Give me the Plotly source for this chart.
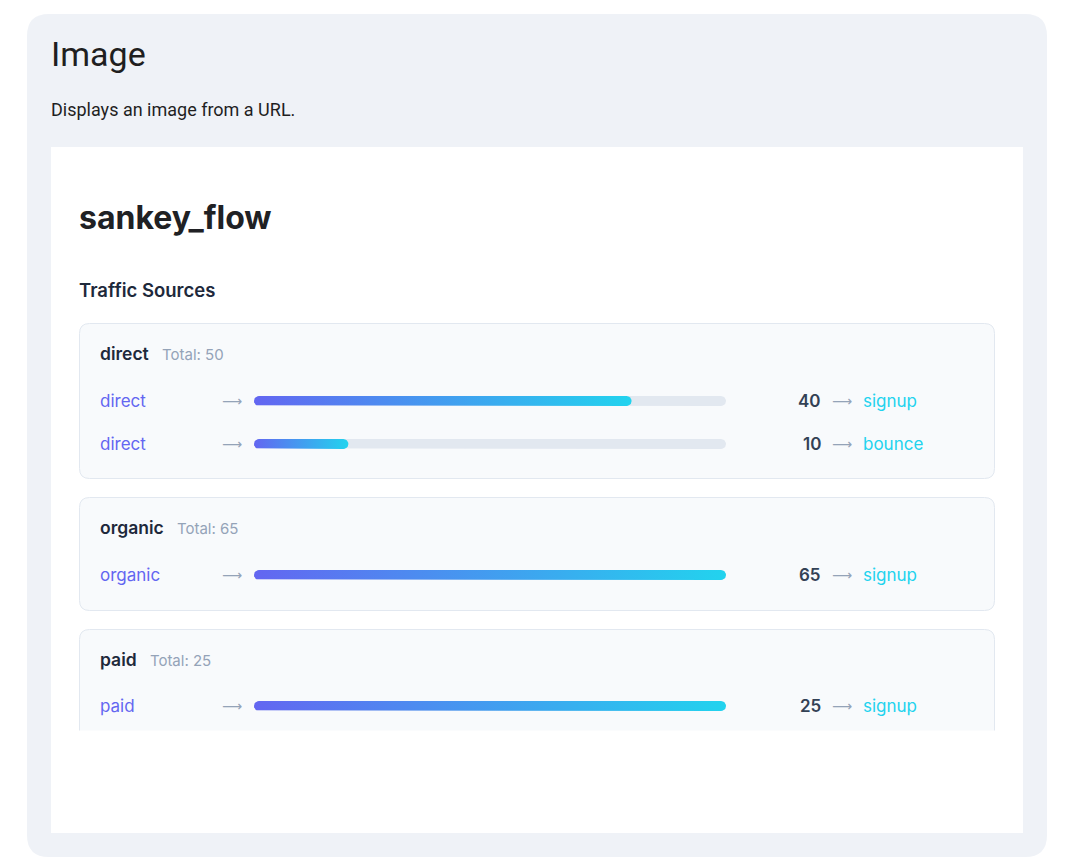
import math
import plotly.graph_objects as go

# ---------------- data ----------------
sources = ["direct", "direct", "organic", "paid"]
targets = ["signup", "bounce", "signup", "signup"]
values = [40, 10, 65, 25]
groups = ["direct", "organic", "paid"]

page_title = "Image"
page_desc = "Displays an image from a URL."
chart_title = "sankey_flow"
section_title = "Traffic Sources"

# ---------------- style / layout ----------------
W, H = 1076, 863
FONT = "Inter"
C_SRC = "#6366f1"
C_TGT = "#22d3ee"
C_TRACK = "#e2e8f0"
C_MUTED = "#94a3b8"
C_DARK = "#1e293b"

TRACK_X0, TRACK_X1 = 254, 726
BAR_H = 10
DX = -2  # compensate annotation padding

# vertical layout of group boxes (pixel rows)
box_tops = [323, 497, 629]
box_bottoms = [479, 611, 731]
header_y = [353, 527, 659]
row_y = {0: [401, 444], 1: [575], 2: [706]}

fig = go.Figure()
shapes = []
annotations = []


def rrect(x0, y0, x1, y1, r, open_bottom=False):
    if open_bottom:
        return (f"M{x0},{y1} L{x0},{y0+r} Q{x0},{y0} {x0+r},{y0} L{x1-r},{y0} "
                f"Q{x1},{y0} {x1},{y0+r} L{x1},{y1}")
    return (f"M{x0+r},{y0} L{x1-r},{y0} Q{x1},{y0} {x1},{y0+r} L{x1},{y1-r} "
            f"Q{x1},{y1} {x1-r},{y1} L{x0+r},{y1} Q{x0},{y1} {x0},{y1-r} "
            f"L{x0},{y0+r} Q{x0},{y0} {x0+r},{y0} Z")


def label(text, x, y, size, color, family=FONT, anchor="left", weight=None):
    f = dict(family=family, size=size, color=color)
    if weight is not None:
        f["weight"] = weight
    annotations.append(dict(text=text, x=x + (DX if anchor == "left" else -DX), y=y,
                            xref="x", yref="y", xanchor=anchor, yanchor="middle",
                            showarrow=False, font=f))


# outer card
shapes.append(dict(type="path", path=rrect(27, 14, 1047, 857, 22), xref="x", yref="y",
                   fillcolor="#eff2f7", line=dict(width=0), layer="below"))
# white image area
shapes.append(dict(type="rect", x0=51, y0=147, x1=1023, y1=833, xref="x", yref="y",
                   fillcolor="#ffffff", line=dict(width=0), layer="below"))

label(page_title, 51, 54, 34, "#1f1f1f", family="Roboto")
label(page_desc, 51, 109, 18, "#1f1f1f", family="Roboto")
label(chart_title, 79, 217, 32, "#202124", weight=700)
label(section_title, 79, 290, 18.5, C_DARK, weight=600)


def pill(v, yc, total):
    """rounded bar from 0 to v on an axis whose range is [0,total]"""
    r = BAR_H / 2
    rx = r * total / (TRACK_X1 - TRACK_X0)
    xs, ys = [], []
    n = 12
    for i in range(n + 1):
        a = -math.pi / 2 + math.pi * i / n
        xs.append(v - rx + rx * math.cos(a))
        ys.append(yc + r * math.sin(a))
    for i in range(n + 1):
        a = math.pi / 2 + math.pi * i / n
        xs.append(rx + rx * math.cos(a))
        ys.append(yc + r * math.sin(a))
    xs.append(xs[0]); ys.append(ys[0])
    return xs, ys


layout_axes = {}
for gi, g in enumerate(groups):
    idx = [i for i, s in enumerate(sources) if s == g]
    total = sum(values[i] for i in idx)
    ax_id = gi + 2
    xname = f"x{ax_id}"
    layout_axes[f"xaxis{ax_id}"] = dict(
        domain=[TRACK_X0 / W, TRACK_X1 / W], range=[0, total], anchor="y",
        visible=False, fixedrange=True)

    y0, y1 = box_tops[gi], box_bottoms[gi]
    shapes.append(dict(type="path", path=rrect(79.5, y0 + 0.5, 994.5, y1 - 0.5, 10,
                                               open_bottom=(gi == 2)),
                       xref="x", yref="y", fillcolor="#f8fafc",
                       line=dict(color=C_TRACK, width=1), layer="below"))

    label(f"{g}&nbsp;&nbsp;&nbsp;<span style='font-size:15px;font-weight:400;color:{C_MUTED}'>"
          f"Total: {total}</span>", 100, header_y[gi], 17.5, C_DARK, weight=600)

    for k, i in enumerate(idx):
        yc = row_y[gi][k]
        tx, ty = pill(total, yc, total)
        fig.add_trace(go.Scatter(x=tx, y=ty, xaxis=xname, yaxis="y", mode="lines",
                                 fill="toself", fillcolor=C_TRACK, line=dict(width=0),
                                 hoverinfo="skip", showlegend=False))
        bx, by = pill(values[i], yc, total)
        fig.add_trace(go.Scatter(
            x=bx, y=by, xaxis=xname, yaxis="y", mode="lines", fill="toself",
            fillgradient=dict(type="horizontal",
                              colorscale=[[0, C_SRC], [1, C_TGT]]),
            line=dict(width=0), hoverinfo="skip", showlegend=False))

        label(sources[i], 100, yc, 17, C_SRC)
        label("⟶", 222, yc, 14, C_MUTED, family="DejaVu Sans")
        label(str(values[i]), 821, yc, 17, "#334155", anchor="right", weight=600)
        label("⟶", 832, yc, 14, C_MUTED, family="DejaVu Sans")
        label(targets[i], 863, yc, 17, C_TGT)

# invisible anchor trace for pixel axes
fig.add_trace(go.Scatter(x=[0, W], y=[0, H], mode="markers", marker=dict(opacity=0),
                         hoverinfo="skip", showlegend=False))

fig.update_layout(
    width=W, height=H, margin=dict(l=0, r=0, t=0, b=0, pad=0),
    paper_bgcolor="#ffffff", plot_bgcolor="rgba(0,0,0,0)",
    xaxis=dict(range=[0, W], domain=[0, 1], visible=False, fixedrange=True),
    yaxis=dict(range=[H, 0], domain=[0, 1], visible=False, fixedrange=True),
    shapes=shapes, annotations=annotations, showlegend=False,
    **layout_axes,
)

fig.write_html("out.html", config={"displayModeBar": False})
